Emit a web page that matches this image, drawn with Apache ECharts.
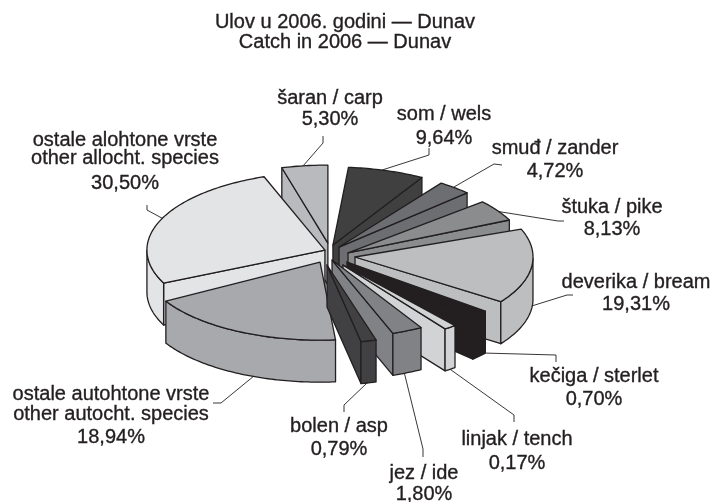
<!DOCTYPE html>
<html>
<head>
<meta charset="utf-8">
<style>html,body{margin:0;padding:0;background:#fff}#c{width:713px;height:502px}</style>
<script src="https://cdn.jsdelivr.net/npm/echarts@6/dist/echarts.min.js"></script>
</head>
<body>
<div id="c"></div>
<script>
var names = [
  'šaran / carp', 'som / wels', 'smuđ / zander', 'štuka / pike', 'deverika / bream',
  'kečiga / sterlet', 'linjak / tench', 'jez / ide', 'bolen / asp',
  'ostale autohtone vrste\nother autocht. species', 'ostale alohtone vrste\nother allocht. species'
];
var percentLabels = ['5,30%', '9,64%', '4,72%', '8,13%', '19,31%', '0,70%', '0,17%', '1,80%', '0,79%', '18,94%', '30,50%'];
// sweep of each slice as it is drawn in the picture (degrees on the tilted disc)
var drawnStart = [255, 275, 305, 319, 339, 399, 411, 420, 434, 85, 155];
var drawnSweep = [15, 25, 11, 16, 56, 6, 4, 10, 5, 65, 95];

// layout and style
var colors = ['#b9babd', '#404041', '#6d6e71', '#8a8c8e', '#bcbec0', '#231f20', '#d1d3d4', '#808285', '#414042', '#a7a9ac', '#e3e4e6'];
var explodeDist = [17.2, 13, 10, 10.8, 17, 10.3, 9.4, 6.7, 13.6, 18.7, 14.8];
var explodeDir = [234, 247, 276, 338, 0, 29, 58, 153, 144, 164, 208];
var labelX = [330, 444, 555, 612, 636, 594, 517, 424, 339, 111, 125];
var labelLineY = [[98, 119], [114, 138], [148, 171], [207, 229], [282, 304], [376, 399], [439, 463], [473, 494], [426, 449], [394, 414, 437], [140, 158, 183]];
var leaderAt = [262, 286, 310, 328, 5, 39, 53, 66, 77, 112, 204];
var leaderDrop = [0, 0, 0, 0, 42, 42, 42, 42, 42, 42, 0];
var leaderRest = [
  [[323, 143], [323, 136]], [[429, 155], [429, 148]], [[494, 164], [502, 165]], [[558, 221], [564, 221]],
  [[567, 295], [573, 295]], [[556, 355], [556, 362]], [[514, 415], [514, 422]], [[423, 449], [423, 457]], [[344, 405], [344, 412]],
  [[221, 403], [213, 403]], [[147, 210], [147, 205]]
];
var cx = 338, cy = 257, rx = 178, ry = 78, depth = 42;
var ink = '#231f20';
var rad = Math.PI / 180;

function midSin(i) { return Math.sin((drawnStart[i] + drawnSweep[i] / 2) * rad); }
var order = names.map(function (_, i) { return i; }).sort(function (a, b) { return midSin(a) - midSin(b); });

var chart = echarts.init(document.getElementById('c'), null, { renderer: 'canvas' });

function textEl(str, x, y) {
  return {
    type: 'text', x: x, y: y, z2: 6,
    style: {
      text: str, fill: ink, stroke: ink, lineWidth: 0.35,
      fontSize: 20, fontFamily: '"Liberation Sans", Arial, sans-serif',
      align: 'center', verticalAlign: 'middle'
    }
  };
}

function renderSlice(params, api) {
  var i = api.value(0);
  var ax = cx + explodeDist[i] * Math.cos(explodeDir[i] * rad);
  var ay = cy + explodeDist[i] * Math.sin(explodeDir[i] * rad);
  var s = drawnStart[i], e = s + drawnSweep[i];
  function rim(t) { return [ax + rx * Math.cos(t * rad), ay + ry * Math.sin(t * rad)]; }
  var style = { fill: colors[i], stroke: ink, lineWidth: 1.3, lineJoin: 'round' };
  var kids = [];
  function poly(points) { kids.push({ type: 'polygon', shape: { points: points }, style: style }); }
  function drop(p) { return [p[0], p[1] + depth]; }

  var apex = [ax, ay];
  if (Math.sin((s - 90) * rad) > 0) poly([apex, rim(s), drop(rim(s)), drop(apex)]);
  if (Math.sin((e + 90) * rad) > 0) poly([apex, rim(e), drop(rim(e)), drop(apex)]);

  var upper = [], t;
  for (t = s; t <= e; t += 1) { if (Math.sin(t * rad) >= 0) upper.push(rim(t)); }
  if (Math.sin(e * rad) >= 0) upper.push(rim(e));
  if (upper.length > 1) {
    poly(upper.concat(upper.slice().reverse().map(drop)));
  }

  var top = [apex];
  for (t = s; t < e; t += 1) top.push(rim(t));
  top.push(rim(e));
  poly(top);

  var a = rim(leaderAt[i]);
  a = [a[0], a[1] + leaderDrop[i]];
  kids.push({
    type: 'polyline',
    shape: { points: [a].concat(leaderRest[i]) },
    style: { fill: 'none', stroke: ink, lineWidth: 0.9 },
    z2: 5
  });

  var lines = (names[i] + '\n' + percentLabels[i]).split('\n');
  lines.forEach(function (line, k) { kids.push(textEl(line, labelX[i], labelLineY[i][k])); });
  return { type: 'group', children: kids };
}

chart.setOption({
  animation: false,
  title: {
    text: 'Ulov u 2006. godini — Dunav\nCatch in 2006 — Dunav',
    left: 345, textAlign: 'center', top: 12, padding: 0,
    textStyle: { color: ink, fontFamily: '"Liberation Sans"', fontWeight: 'normal', fontSize: 20, lineHeight: 20, textBorderColor: ink, textBorderWidth: 0.35 }
  },
  series: [{
    type: 'custom',
    coordinateSystem: 'none',
    silent: true,
    renderItem: renderSlice,
    data: order.map(function (i) { return { name: names[i], value: [i, drawnStart[i], drawnSweep[i]] }; })
  }]
});
</script>
</body>
</html>
